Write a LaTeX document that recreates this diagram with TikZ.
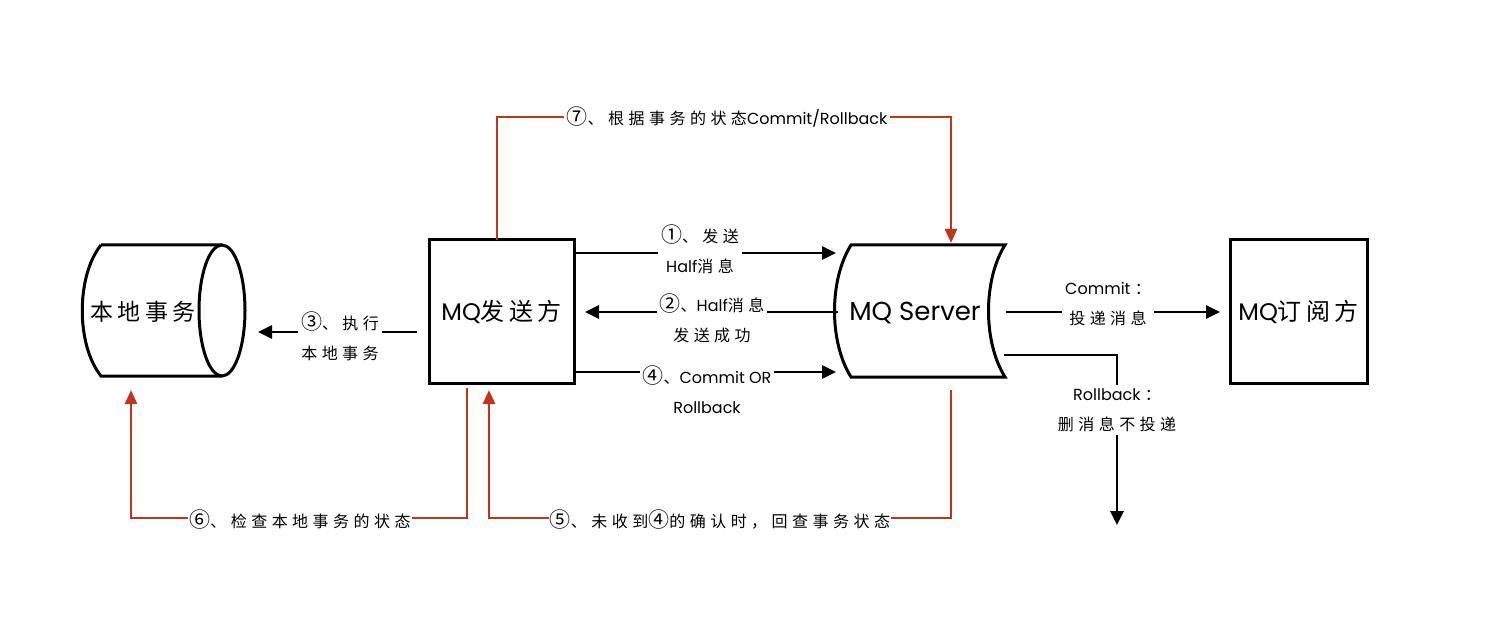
\documentclass[tikz,border=0pt]{standalone}
\usepackage{fontspec}
\setmainfont{Poppins}
\newfontfamily\zhfont[LetterSpace=28]{Noto Sans CJK SC}
\newfontfamily\zhbig[LetterSpace=18]{Noto Sans CJK SC}
\newfontfamily\numfont{Noto Sans CJK SC}
\newcommand\zh[1]{{\zhfont #1}}
\newcommand\zb[1]{{\zhbig #1}}
\newcommand\cn[1]{{\numfont\fontsize{21}{30}\selectfont #1}}
\usetikzlibrary{arrows.meta}
\definecolor{redc}{RGB}{190,55,28}
\begin{document}
\begin{tikzpicture}[x=1pt,y=-1pt,
  lbl/.style={fill=white,align=center,inner sep=3pt,font=\fontsize{16}{30}\selectfont},
  boxed/.style={draw,line width=3pt,minimum height=143pt,font=\fontsize{24}{28}\selectfont},
  shapeline/.style={line width=3pt},
  arr/.style={line width=2.8pt,-{Triangle[length=14pt,width=13pt]}},
  rarr/.style={line width=2.5pt,draw=redc,-{Triangle[length=14pt,width=12pt]}}]
\useasboundingbox (0,0) rectangle (1502,628);
% local transaction cylinder
\draw[shapeline] (101,245) -- (222,245) (222,376) -- (101,376) .. controls (76,345) and (76,276) .. (101,245);
\draw[shapeline] (222,310.5) ellipse [x radius=23pt, y radius=65.5pt];
\node[font=\fontsize{23}{26}\selectfont] (local) at (143,312) {\zb{本地事务}};
% sender
\node[boxed,minimum width=145pt] (sender) at (501.5,311.5) {MQ\zb{发送方}};
% server
\draw[shapeline] (851,245) -- (1005,245) .. controls (983,280) and (983,342) .. (1005,377) -- (851,377) .. controls (829,342) and (829,280) .. (851,245) -- cycle;
\node[font=\fontsize{26}{30}\selectfont] (srv) at (915,313) {MQ Server};
% subscriber
\node[boxed,minimum width=137pt] (sub) at (1298.5,311.5) {MQ\zb{订阅方}};
% anchor points
\coordinate (s1) at (575,253);
\coordinate (v1) at (836,253);
\coordinate (v2) at (838,312);
\coordinate (s2) at (585,312);
\coordinate (s4) at (575,372);
\coordinate (v4) at (836,372);
\coordinate (s3) at (417,332);
\coordinate (l3) at (258,332);
\coordinate (vc) at (1006,312);
\coordinate (uc) at (1220,312);
\coordinate (vr) at (1004,355);
\coordinate (rb) at (1117,355);
\coordinate (re) at (1117,525);
\coordinate (s7) at (497,240);
\coordinate (t7a) at (497,117);
\coordinate (t7b) at (951,117);
\coordinate (v7) at (951,243);
\coordinate (s6) at (467,388);
\coordinate (b6a) at (467,518);
\coordinate (b6b) at (131,518);
\coordinate (l6) at (131,390);
\coordinate (v5) at (951,390);
\coordinate (b5a) at (951,518);
\coordinate (b5b) at (489,518);
\coordinate (s5) at (489,390);
% black arrows
\draw[arr] (s1) -- (v1);
\node[lbl] (n1) at (700,249) {\cn{①}\zh{、发送}\\Half\zh{消息}};
\draw[arr] (v2) -- (s2);
\node[lbl] (n2) at (712,318) {\cn{②}\zh{、}Half\zh{消息}\\\zh{发送成功}};
\draw[arr] (s4) -- (v4);
\node[lbl] (n4) at (707,390) {\cn{④}\zh{、}Commit OR\\Rollback};
\draw[arr] (s3) -- (l3);
\node[lbl] (n3) at (340,336) {\cn{③}\zh{、执行}\\\zh{本地事务}};
\draw[arr] (vc) -- (uc);
\node[lbl] (nc) at (1108,304) {Commit \zh{：}\\\zh{投递消息}};
\draw[arr] (vr) -- (rb) -- (re);
\node[lbl] (nr) at (1117,410) {Rollback \zh{：}\\\zh{删消息不投递}};
% red arrows
\draw[rarr] (s7) -- (t7a) -- (t7b) -- (v7);
\node[lbl] (n7) at (727,117) {\cn{⑦}\zh{、根据事务的状态}Commit/Rollback};
\draw[rarr] (s6) -- (b6a) -- (b6b) -- (l6);
\node[lbl,inner xsep=1pt] (n6) at (300,520) {\cn{⑥}\zh{、检查本地事务的状态}};
\draw[rarr] (v5) -- (b5a) -- (b5b) -- (s5);
\node[lbl,inner xsep=1pt] (n5) at (720,520) {\cn{⑤}\zh{、未收到}\cn{④}\zh{的确认时，回查事务状态}};
\end{tikzpicture}
\end{document}
